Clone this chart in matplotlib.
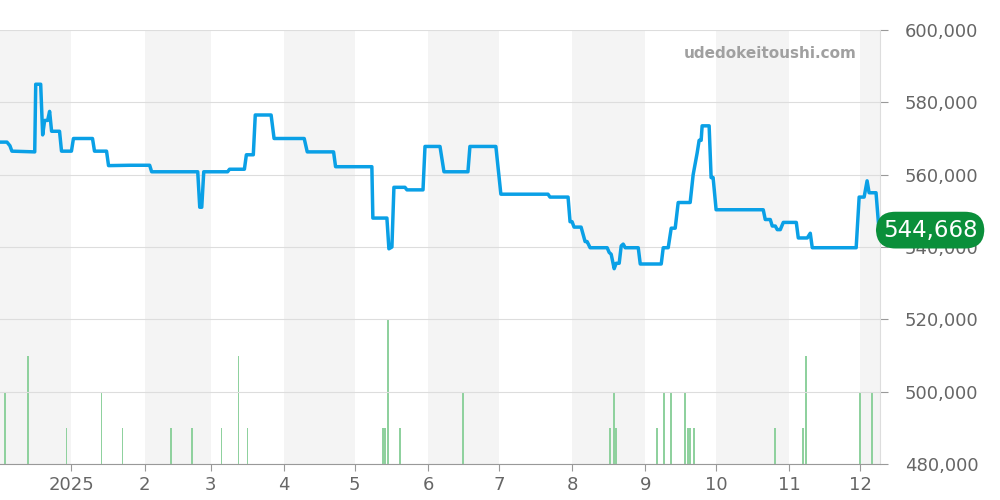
import matplotlib
matplotlib.use("Agg")
import matplotlib.pyplot as plt
import numpy as np

# pixel-x based trace converted to days since 2025-01-01
px = [0,7,10,12,35,36,41,43,45,48,50,52,60,62,72,74,93,95,107,109,130,150,152,198,200,202,204,228,230,245,247,254,256,272,275,305,308,334,336,372,373,387,389,392,394,405,407,423,425,440,444,468,470,496,501,548,550,568,570,572,574,581,585,587,590,607,609,611,614,616,619,621,623,625,638,640,661,663,668,671,675,678,690,693,697,699,701,702,709,711,713,716,763,765,770,772,775,777,780,783,796,798,807,810,812,856,859,864,867,869,876,879]
price_k = [569,569,568,566.5,566.3,585,585,571,575,575,577.5,572,572,566.5,566.5,570,570,566.5,566.5,562.5,562.6,562.6,560.8,560.8,551,551,560.8,560.8,561.5,561.5,565.5,565.5,576.5,576.5,570,570,566.3,566.3,562.2,562.2,548,548,539.5,540,556.5,556.5,555.8,555.8,567.8,567.8,560.8,560.8,567.8,567.8,554.6,554.6,553.8,553.8,547,547,545.5,545.5,541.5,541.5,539.8,539.8,538.5,538,534,535.5,535.5,540.3,540.8,539.8,539.8,535.3,535.3,539.8,539.8,545.2,545.2,552.3,552.3,560,566,569.5,569.5,573.5,573.5,559.2,559.2,550.3,550.3,547.6,547.6,545.8,545.8,544.8,544.8,546.8,546.8,542.5,542.5,543.8,539.8,539.8,553.8,553.8,558.3,555,555,544.668]
vol_px = [5,28,67,102,123,171,192,222,239,248,383,385,388,400,463,610,614,616,657,664,671,685,688,690,694,775,803,806,860,872]
vol = [2,3,1,2,1,1,1,1,3,1,1,1,4,1,2,1,2,1,1,2,2,2,1,1,1,1,1,3,2,2]
month_starts = [0,31,59,90,120,151,181,212,243,273,304,334]
month_labels = ["2025","2","3","4","5","6","7","8","9","10","11","12"]
tick_px = [72,145,211,285,355,428,499,572,645,716,789,860]

def to_day(p):
    p = np.asarray(p, dtype=float)
    return np.where(p < 72, (p - 72) / 2.38, np.where(p > 860, 334 + (p - 860) / 2.38,
                    np.interp(p, tick_px, month_starts)))
days = to_day(px)
vdays = to_day(vol_px)
prices = np.array(price_k) * 1000
xmin, xmax = float(to_day(0)), float(to_day(880))

fig = plt.figure(figsize=(10, 5), dpi=100)
ax = fig.add_axes([0.0, 0.072, 0.88, 0.868])
ax2 = ax.twinx()
ax.set_zorder(2); ax.patch.set_visible(False)
ax2.set_zorder(1)

bands = [(xmin, 0), (31, 59), (90, 120), (151, 181), (212, 243), (273, 304), (334, xmax)]
for a, b in bands:
    ax2.axvspan(a, b, color="#f4f4f4", lw=0, zorder=0)

ax2.bar(vdays, vol, width=0.7, color="#8fd19e", zorder=1)
ax2.set_ylim(0, 12.06)
ax2.set_yticks([])

ax.plot(days, prices, color="#0aa0e6", lw=2.5, zorder=3)
ax.set_xlim(xmin, xmax)
ax.set_ylim(480000, 600000)
ax.yaxis.tick_right()
yt = np.arange(480000, 600001, 20000)
ax.set_yticks(yt)
ax.set_yticklabels([f"{v:,}" for v in yt], fontsize=13, color="#666666")
ax.grid(axis="y", color="#dddddd", lw=0.8)
ax.set_xticks(month_starts)
ax.set_xticklabels(month_labels, fontsize=13, color="#666666")
ax.tick_params(axis="x", length=5, color="#999999")
ax.tick_params(axis="y", length=6, color="#999999", pad=12)
for s in ["top", "left"]:
    ax.spines[s].set_visible(False); ax2.spines[s].set_visible(False)
ax.spines["right"].set_color("#dddddd"); ax2.spines["right"].set_visible(False)
ax.spines["bottom"].set_color("#999999"); ax2.spines["bottom"].set_visible(False)

ax.text(0.974, 0.945, "udedokeitoushi.com", transform=ax.transAxes, ha="right", va="center",
        fontsize=11, fontweight="bold", color="#a0a0a0")
ax.text(xmax + 1.2, prices[-1], "544,668", ha="left", va="center", fontsize=16.5, color="white",
        clip_on=False, zorder=5,
        bbox=dict(boxstyle="round,pad=0.3,rounding_size=0.85", fc="#0a8f3a", ec="none"))

fig.savefig("out.png")
